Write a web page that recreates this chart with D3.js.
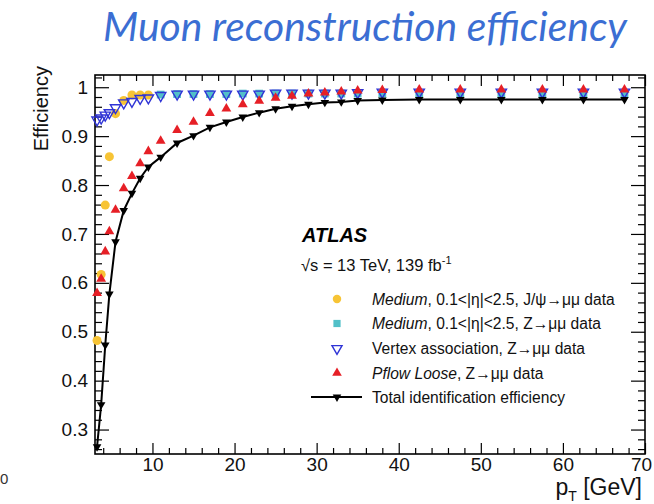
<!DOCTYPE html>
<html>
<head>
<meta charset="utf-8">
<script src="https://cdn.jsdelivr.net/npm/d3@7"></script>
<style>
  html, body { margin: 0; padding: 0; background: #fff; }
  svg { display: block; }
  text { font-family: "Liberation Sans", Arial, Helvetica, sans-serif; }
</style>
</head>
<body>
<svg id="chart" width="654" height="504"></svg>
<script>
// Bin centres in pT [GeV]
const ptJpsi = [3.25, 3.75, 4.25, 4.75, 5.5, 6.5, 7.5, 8.5, 9.5];
const ptLow  = [3.25, 3.75, 4.25, 4.75, 5.5, 6.5, 7.5, 8.5, 9.5];
const ptZ    = [11, 13, 15, 17, 19, 21, 23, 25, 27, 29, 31, 33, 35, 38, 42.5, 47.5, 52.5, 57.5, 62.5, 67.5];

// Medium, 0.1<|eta|<2.5, J/psi->mumu data
const effMediumJpsi = [0.482, 0.617, 0.759, 0.858, 0.946, 0.973, 0.984, 0.984, 0.984];
// Medium, 0.1<|eta|<2.5, Z->mumu data
const effMediumZ = [0.985, 0.986, 0.986, 0.986, 0.986, 0.987, 0.987, 0.987, 0.987, 0.987,
                    0.987, 0.987, 0.987, 0.987, 0.987, 0.987, 0.987, 0.987, 0.987, 0.987];
// Vertex association, Z->mumu data
const effVertexLow = [0.933, 0.937, 0.943, 0.948, 0.958, 0.968, 0.971, 0.977, 0.978];
const effVertexZ   = [0.983, 0.986, 0.986, 0.986, 0.986, 0.986, 0.986, 0.988, 0.988, 0.988,
                      0.988, 0.988, 0.989, 0.990, 0.990, 0.990, 0.990, 0.990, 0.990, 0.990];
// Pflow Loose, Z->mumu data
const effPflowLow = [0.579, 0.608, 0.664, 0.705, 0.749, 0.793, 0.818, 0.844, 0.869];
const effPflowZ   = [0.890, 0.912, 0.929, 0.947, 0.956, 0.965, 0.972, 0.978, 0.982, 0.987,
                     0.989, 0.991, 0.993, 0.994, 0.995, 0.995, 0.995, 0.995, 0.995, 0.995];
// Total identification efficiency
const effTotalLow = [0.265, 0.351, 0.473, 0.577, 0.684, 0.748, 0.783, 0.814, 0.837];
const effTotalZ   = [0.857, 0.886, 0.901, 0.918, 0.929, 0.939, 0.948, 0.956, 0.961, 0.965,
                     0.969, 0.970, 0.973, 0.974, 0.975, 0.975, 0.975, 0.975, 0.975, 0.975];

// Axis ticks and labels
const xTicks = [10, 20, 30, 40, 50, 60, 70];
const xTickLabels = ["10", "20", "30", "40", "50", "60", "70"];
const xMinorTicks = [4, 6, 8, 12, 14, 16, 18, 22, 24, 26, 28, 32, 34, 36, 38, 42, 44, 46, 48,
                     52, 54, 56, 58, 62, 64, 66, 68];
const yTicks = [0.3, 0.4, 0.5, 0.6, 0.7, 0.8, 0.9, 1.0];
const yTickLabels = ["0.3", "0.4", "0.5", "0.6", "0.7", "0.8", "0.9", "1"];
const yMinorTicks = [0.26, 0.28, 0.32, 0.34, 0.36, 0.38, 0.42, 0.44, 0.46, 0.48, 0.52, 0.54, 0.56, 0.58,
                     0.62, 0.64, 0.66, 0.68, 0.72, 0.74, 0.76, 0.78, 0.82, 0.84, 0.86, 0.88,
                     0.92, 0.94, 0.96, 0.98, 1.02];

const legendLabels = [
  [["Medium", true], [", 0.1<|η|<2.5, J/ψ→μμ data", false]],
  [["Medium", true], [",  0.1<|η|<2.5, Z→μμ data", false]],
  [["Vertex association, Z→μμ data", false]],
  [["Pflow Loose", true], [", Z→μμ data", false]],
  [["Total identification efficiency", false]]
];

const colYellow = "#f7c435", colTeal = "#52c0c8", colBlue = "#2f34d6", colRed = "#e61f26";

const svg = d3.select("#chart");
const L = 95, R = 645, T = 75, B = 454;
const x = d3.scaleLinear().domain([3, 70]).range([L, R]);
const y = d3.scaleLinear().domain([0.25, 1.025]).range([B, T]);

// Title, sized to span the plot width and kept inside the top edge
const title = svg.append("text")
  .attr("x", 365).attr("y", 39)
  .attr("text-anchor", "middle")
  .style("font-family", "Lato, 'Open Sans', sans-serif")
  .style("font-style", "italic")
  .style("font-size", "33px")
  .attr("fill", "#3b6ed3")
  .text("Muon reconstruction efficiency");
const tw = title.node().getComputedTextLength();
title.style("font-size", (33 * 524 / tw) + "px");
const tb = title.node().getBBox();
if (tb.y < 1) title.attr("y", 39 + (1 - tb.y));

// Axes (ROOT style: ticks inside, on all four sides)
const tickStyle = g => { g.select(".domain").remove(); g.selectAll("line").attr("stroke", "#000").attr("stroke-width", 1.2); };
const labelStyle = g => g.selectAll("text").style("font-size", "19px").attr("fill", "#111")
  .style("font-family", "'Liberation Sans', Arial, sans-serif");

svg.append("g").attr("transform", `translate(${L},0)`)
  .call(d3.axisLeft(y).tickValues(yTicks).tickSize(-14).tickPadding(7)
        .tickFormat((d, i) => yTickLabels[i]))
  .call(tickStyle).call(labelStyle);
svg.append("g").attr("transform", `translate(${L},0)`)
  .call(d3.axisLeft(y).tickValues(yMinorTicks).tickSize(-7).tickFormat(""))
  .call(tickStyle);
svg.append("g").attr("transform", `translate(${R},0)`)
  .call(d3.axisRight(y).tickValues(yTicks).tickSize(-14).tickFormat(""))
  .call(tickStyle);
svg.append("g").attr("transform", `translate(${R},0)`)
  .call(d3.axisRight(y).tickValues(yMinorTicks).tickSize(-7).tickFormat(""))
  .call(tickStyle);

svg.append("g").attr("transform", `translate(0,${B})`)
  .call(d3.axisBottom(x).tickValues(xTicks).tickSize(-11).tickPadding(3)
        .tickFormat((d, i) => xTickLabels[i]))
  .call(tickStyle).call(labelStyle)
  // keep the last label inside the page edge
  .call(g => g.selectAll("text").filter(d => d === 70).attr("dx", -4));
svg.append("g").attr("transform", `translate(0,${B})`)
  .call(d3.axisBottom(x).tickValues(xMinorTicks).tickSize(-6).tickFormat(""))
  .call(tickStyle);
svg.append("g").attr("transform", `translate(0,${T})`)
  .call(d3.axisTop(x).tickValues(xTicks).tickSize(-11).tickFormat(""))
  .call(tickStyle);
svg.append("g").attr("transform", `translate(0,${T})`)
  .call(d3.axisTop(x).tickValues(xMinorTicks).tickSize(-6).tickFormat(""))
  .call(tickStyle);

// Frame
svg.append("rect").attr("x", L).attr("y", T).attr("width", R - L).attr("height", B - T)
  .attr("fill", "none").attr("stroke", "#000").attr("stroke-width", 1.6);

// Axis titles
svg.append("text")
  .attr("transform", "translate(48,66) rotate(-90)")
  .attr("text-anchor", "end")
  .style("font-size", "20px").attr("fill", "#111")
  .text("Efficiency");
const xt = svg.append("text").attr("x", 642).attr("y", 495).attr("text-anchor", "end")
  .style("font-size", "23px").attr("fill", "#111");
xt.append("tspan").text("p");
xt.append("tspan").attr("dy", 6).style("font-size", "14px").text("T");
xt.append("tspan").attr("dy", -6).text(" [GeV]");

// Stray label at the left edge
svg.append("text").attr("x", 0).attr("y", 484)
  .style("font-size", "15px").attr("fill", "#333").text("0");

// Markers
const sym = (type, size) => d3.symbol().type(type).size(size)();
const plot = svg.append("g");
function drawPoints(xs, ys, type, size, fill, stroke, sw, rot) {
  plot.append("g").selectAll("path").data(xs.map((d, i) => [d, ys[i]])).join("path")
    .attr("d", sym(type, size))
    .attr("transform", d => `translate(${x(d[0])},${y(d[1])})` + (rot ? " rotate(180)" : ""))
    .attr("fill", fill).attr("stroke", stroke).attr("stroke-width", sw);
}
drawPoints(ptZ, effMediumZ, d3.symbolSquare, 60, colTeal, "none", 0, false);
drawPoints(ptJpsi, effMediumJpsi, d3.symbolCircle, 64, colYellow, "none", 0, false);
drawPoints(ptLow.concat(ptZ), effVertexLow.concat(effVertexZ), d3.symbolTriangle, 46, "none", colBlue, 1.4, true);
drawPoints(ptLow.concat(ptZ), effPflowLow.concat(effPflowZ), d3.symbolTriangle, 42, colRed, "none", 0, false);

const ptAll = ptLow.concat(ptZ), effTot = effTotalLow.concat(effTotalZ);
plot.append("path")
  .datum(ptAll.map((d, i) => [d, effTot[i]]))
  .attr("d", d3.line().x(d => x(d[0])).y(d => y(d[1])))
  .attr("fill", "none").attr("stroke", "#000").attr("stroke-width", 2);
drawPoints(ptAll, effTot, d3.symbolTriangle, 32, "#000", "none", 0, true);

// ATLAS label and legend
svg.append("text").attr("x", 302).attr("y", 242)
  .style("font-size", "20px").style("font-weight", "bold").style("font-style", "italic")
  .attr("fill", "#000").text("ATLAS");
const lum = svg.append("text").attr("x", 301).attr("y", 271).style("font-size", "16.5px").attr("fill", "#111");
lum.append("tspan").text("√s = 13 TeV, 139 fb");
lum.append("tspan").attr("dy", -7).style("font-size", "11px").text("-1");

const rowsY = [299, 323.5, 348.5, 373, 397];
const legMarkers = [
  {type: d3.symbolCircle, size: 56, fill: colYellow, stroke: "none", sw: 0, rot: false},
  {type: d3.symbolSquare, size: 52, fill: colTeal, stroke: "none", sw: 0, rot: false},
  {type: d3.symbolTriangle, size: 44, fill: "none", stroke: colBlue, sw: 1.4, rot: true},
  {type: d3.symbolTriangle, size: 40, fill: colRed, stroke: "none", sw: 0, rot: false},
  {type: d3.symbolTriangle, size: 32, fill: "#000", stroke: "none", sw: 0, rot: true}
];
const leg = svg.append("g");
legMarkers.forEach((m, i) => {
  if (i === 4) {
    leg.append("line").attr("x1", 311).attr("x2", 362).attr("y1", rowsY[i]).attr("y2", rowsY[i])
      .attr("stroke", "#000").attr("stroke-width", 2);
  }
  leg.append("path").attr("d", sym(m.type, m.size))
    .attr("transform", `translate(337,${rowsY[i]})` + (m.rot ? " rotate(180)" : ""))
    .attr("fill", m.fill).attr("stroke", m.stroke).attr("stroke-width", m.sw);
  const t = leg.append("text").attr("x", 372).attr("y", rowsY[i] + 5.5)
    .style("font-size", "15.6px").attr("fill", "#111");
  legendLabels[i].forEach(([s, it]) => t.append("tspan").style("font-style", it ? "italic" : "normal").text(s));
});
</script>
</body>
</html>
